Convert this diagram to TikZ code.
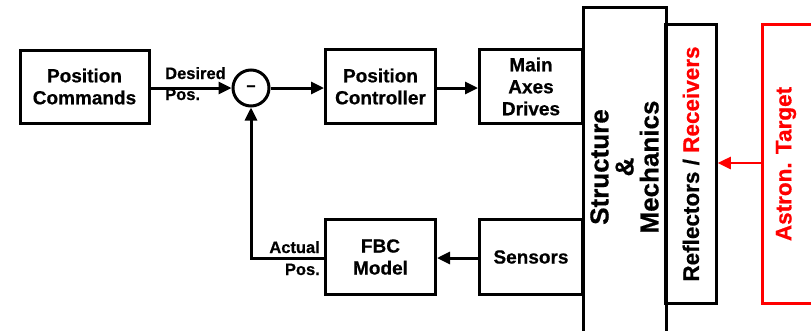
\documentclass[tikz,border=0pt]{standalone}
\usepackage{fontspec}
\setmainfont{Liberation Sans}[BoldFeatures={FakeBold=0.6}]
\usetikzlibrary{arrows.meta}
\definecolor{tgtred}{RGB}{255,0,0}
\begin{document}
\begin{tikzpicture}[x=1pt,y=-1pt,
  blk/.style={draw,line width=3pt,font=\fontsize{19}{22}\selectfont\bfseries,
    align=center,inner sep=0pt},
  lbl/.style={font=\fontsize{16.5}{20}\selectfont\bfseries,inner sep=0pt},
  flow/.style={line width=3pt,-{Triangle[length=13pt,width=12pt]}},
]
\useasboundingbox (0,0) rectangle (811,330);
\clip (0,0) rectangle (811,330);

% forward path
\node[blk,minimum width=129pt,minimum height=73pt] (cmd) at (84.5,86.5) {Position\\Commands};
\node[draw,circle,line width=3pt,minimum size=36pt,inner sep=0pt,
      font=\fontsize{16}{16}\selectfont\bfseries] (sum) at (251,88) {--};
\node[blk,minimum width=110pt,minimum height=74pt] (ctrl) at (380.5,86.5) {Position\\Controller};
\node[blk,minimum width=103pt,minimum height=74pt] (drv) at (531,86.5) {Main\\Axes\\Drives};

% mechanics block and optics (rotated nodes: width runs along the text)
\node[draw,line width=3pt,minimum width=83pt,minimum height=338pt,inner sep=0pt] (struct) at (624.5,176) {};
\node[rotate=90,align=center,inner sep=0pt,
      font=\fontsize{26}{25}\selectfont\bfseries] (structtxt) at (624.5,167) {Structure\\\&\\Mechanics};
\node[draw,line width=3pt,minimum width=279pt,minimum height=50.5pt,inner sep=0pt,
      font=\fontsize{22.5}{25}\selectfont\bfseries,rotate=90] (refl) at (691,164)
      {Reflectors / \textcolor{tgtred}{Receivers}};
\node[draw=tgtred,line width=2.5pt,minimum width=70pt,minimum height=279pt,inner sep=0pt] (tgt) at (797.5,164) {};
\node[rotate=90,inner sep=0pt,text=tgtred,
      font=\fontsize{22.5}{25}\selectfont\bfseries] (tgttxt) at (786,164) {Astron. Target};

% feedback path
\node[blk,minimum width=103pt,minimum height=75pt] (sens) at (531,257) {Sensors};
\node[blk,minimum width=110pt,minimum height=75pt] (fbc) at (380.5,257) {FBC\\Model};
\coordinate (corner) at (251,258);

% connectors
\draw[flow] (cmd.east |- sum) -- (sum.west);
\draw[flow] (sum.east) -- (ctrl.west |- sum);
\draw[flow] (ctrl.east |- sum) -- (drv.west |- sum);
\draw[flow] (sens.west |- corner) -- (fbc.east |- corner);
\draw[flow] (fbc.west |- corner) -- (corner) -- (sum.south);
\draw[flow,draw=tgtred,fill=tgtred,line width=2.5pt] (tgt.west |- 0,163) -- (refl.south |- 0,163);

% signal labels
\node[lbl,anchor=base west] (des) at (165,79) {Desired};
\node[lbl,anchor=base west] (desp) at (165,100) {Pos.};
\node[lbl,anchor=base east] (act) at (320,253) {Actual};
\node[lbl,anchor=base east] (actp) at (320,275) {Pos.};
\end{tikzpicture}
\end{document}
